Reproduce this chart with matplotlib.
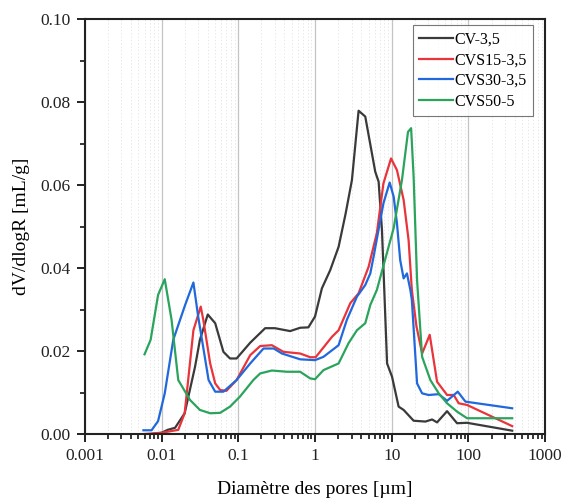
import matplotlib
matplotlib.use("Agg")
import matplotlib.pyplot as plt
from matplotlib.ticker import LogLocator, FixedLocator, MultipleLocator, NullFormatter
import numpy as np

plt.rcParams['font.family'] = ['Liberation Serif', 'DejaVu Serif']

# ---- data ----
cv_x = [0.0075, 0.01, 0.012, 0.015, 0.020, 0.0273, 0.0316, 0.040, 0.050, 0.064, 0.078, 0.095,
        0.143, 0.224, 0.30, 0.474, 0.64, 0.82, 1.0, 1.23, 1.58, 2.03, 2.5, 3.03, 3.70, 4.52,
        6.1, 6.75, 7.46, 8.0, 8.7, 10.1, 12.3, 14.3, 19.3, 27.5, 33.6, 39, 52.7, 71, 96, 372]
cv_y = [0.0, 0.0003, 0.0010, 0.0015, 0.0050, 0.0162, 0.0227, 0.0288, 0.0267, 0.0198, 0.0182, 0.0182,
        0.0220, 0.0255, 0.0255, 0.0248, 0.0256, 0.0257, 0.0283, 0.0351, 0.0395, 0.0451, 0.0530, 0.0612, 0.0779, 0.0765,
        0.0632, 0.0608, 0.0492, 0.0347, 0.0170, 0.0138, 0.0066, 0.0058, 0.0032, 0.0030, 0.0035, 0.0028, 0.0055, 0.0026, 0.0027, 0.0008]

cvs15_x = [0.006, 0.01, 0.0165, 0.020, 0.026, 0.0324, 0.035, 0.043, 0.050, 0.058, 0.070, 0.095,
           0.143, 0.193, 0.274, 0.388, 0.64, 0.865, 1.02, 1.66, 2.03, 2.88, 3.7, 5.0, 6.4, 7.8,
           9.8, 11.7, 14.3, 16.6, 18.3, 21.0, 24.9, 31.3, 39, 52.7, 64.3, 74.7, 96, 372]
cvs15_y = [0.0, 0.0003, 0.0010, 0.0050, 0.0250, 0.0307, 0.0275, 0.0170, 0.0122, 0.0106, 0.0104, 0.0130,
           0.0190, 0.0212, 0.0214, 0.0198, 0.0194, 0.0185, 0.0185, 0.0234, 0.0250, 0.0315, 0.0339, 0.0403, 0.0484, 0.0604,
           0.0664, 0.0636, 0.0564, 0.0467, 0.0347, 0.0260, 0.0194, 0.0239, 0.0126, 0.0094, 0.0094, 0.0074, 0.0070, 0.0019]

cvs30_x = [0.0058, 0.0074, 0.009, 0.011, 0.0142, 0.0202, 0.026, 0.030, 0.041, 0.050, 0.064, 0.095,
           0.143, 0.213, 0.29, 0.37, 0.64, 1.0, 1.29, 2.03, 2.6, 3.52, 4.52, 5.26, 5.8, 7.8,
           9.4, 10.6, 11.7, 12.9, 14.3, 15.8, 17.5, 18.3, 21.4, 24.9, 30.2, 41, 52.7, 72.6, 91.5, 372]
cvs30_y = [0.0009, 0.0009, 0.0031, 0.0098, 0.0227, 0.0310, 0.0365, 0.0283, 0.0130, 0.0102, 0.0102, 0.0130,
           0.0170, 0.0206, 0.0206, 0.0194, 0.0180, 0.0178, 0.0186, 0.0214, 0.0275, 0.0331, 0.0359, 0.0387, 0.0427, 0.0556,
           0.0606, 0.0572, 0.0508, 0.0419, 0.0375, 0.0387, 0.0347, 0.0323, 0.0122, 0.0098, 0.0094, 0.0096, 0.0080, 0.0102, 0.0078, 0.0062]

cvs50_x = [0.006, 0.0072, 0.009, 0.011, 0.0135, 0.0165, 0.0235, 0.0316, 0.043, 0.058, 0.078, 0.105,
           0.157, 0.193, 0.274, 0.43, 0.64, 0.865, 1.0, 1.29, 2.03, 2.74, 3.52, 4.52, 5.26, 6.4,
           10.6, 13.6, 16.3, 17.9, 19.3, 21.4, 24.9, 31.9, 41, 52.7, 71, 96, 372]
cvs50_y = [0.0192, 0.0227, 0.0335, 0.0373, 0.0275, 0.0130, 0.0082, 0.0058, 0.0050, 0.0051, 0.0066, 0.0090,
           0.0130, 0.0146, 0.0153, 0.0150, 0.0150, 0.0134, 0.0132, 0.0154, 0.0170, 0.0219, 0.0250, 0.0267, 0.0311, 0.0347,
           0.0496, 0.0612, 0.0728, 0.0737, 0.0620, 0.0371, 0.0186, 0.0130, 0.0098, 0.0074, 0.0054, 0.0038, 0.0038]

labels = ['CV-3,5', 'CVS15-3,5', 'CVS30-3,5', 'CVS50-5']
colors = ['#3a3a3a', '#e8343a', '#2068dc', '#2aa45c']

fig = plt.figure(figsize=(5.62, 4.98), dpi=100)
ax = fig.add_axes([0.151, 0.1285, 0.819, 0.8333])

for xs, ys, lab, c in zip([cv_x, cvs15_x, cvs30_x, cvs50_x], [cv_y, cvs15_y, cvs30_y, cvs50_y], labels, colors):
    ax.plot(xs, ys, color=c, lw=1.6, label=lab)

ax.set_xscale('log')
ax.set_xlim(0.001, 1000)
ax.set_ylim(0, 0.10)
ax.xaxis.set_major_locator(FixedLocator([0.001, 0.01, 0.1, 1, 10, 100, 1000]))
ax.xaxis.set_major_formatter(plt.FuncFormatter(lambda v, p: {0.001: '0.001', 0.01: '0.01', 0.1: '0.1', 1: '1', 10: '10', 100: '100', 1000: '1000'}.get(v, '')))
ax.xaxis.set_minor_locator(LogLocator(base=10, subs=np.arange(2, 10), numticks=20))
ax.xaxis.set_minor_formatter(NullFormatter())
ax.yaxis.set_major_locator(MultipleLocator(0.02))
ax.yaxis.set_minor_locator(MultipleLocator(0.01))
ax.yaxis.set_major_formatter(plt.FuncFormatter(lambda v, p: f'{v:.2f}'))

ax.grid(True, which='major', axis='x', color='#c4c4c4', lw=0.9, ls='-')
ax.grid(True, which='minor', axis='x', color='#e2e2e2', lw=0.6, ls=(0, (1.5, 2.5)))
ax.set_axisbelow(True)

for s in ax.spines.values():
    s.set_linewidth(1.5)
    s.set_color('#222222')
ax.tick_params(which='major', direction='out', length=6, width=1.4, labelsize=12.5, colors='#222222', top=False, right=False, pad=4)
ax.tick_params(which='minor', direction='out', length=3.5, width=1.1, top=False, right=False)

ax.set_xlabel('Diamètre des pores [µm]', fontsize=14, labelpad=12)
ax.set_ylabel('dV/dlogR [mL/g]', fontsize=14, labelpad=8)

leg = ax.legend(loc='upper right', bbox_to_anchor=(0.974, 0.9855), fontsize=11.5, frameon=True, fancybox=False,
                handlelength=2.1, handletextpad=0.1, borderpad=0.4, labelspacing=0.3, borderaxespad=0.0)
leg.get_frame().set_edgecolor('#555555')
leg.get_frame().set_linewidth(0.8)

fig.savefig('out.png', dpi=100)
